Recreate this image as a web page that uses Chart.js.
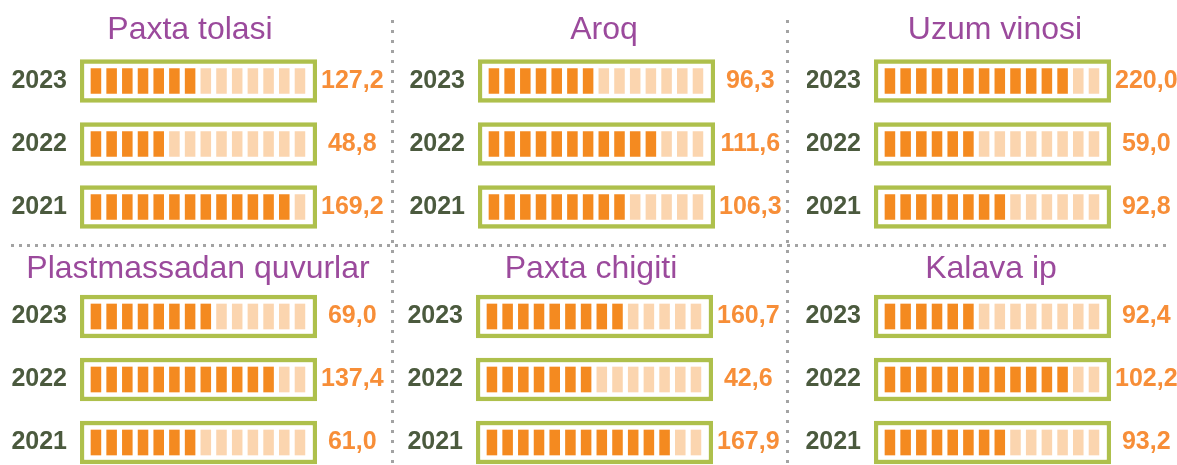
<!DOCTYPE html>
<html>
<head>
<meta charset="utf-8">
<script src="https://cdn.jsdelivr.net/npm/chart.js@4.4.1/dist/chart.umd.min.js"></script>
<style>
    html, body { margin: 0; padding: 0; background: #fff; width: 1177px; height: 465px; overflow: hidden; }
    .panel { position: absolute; }
    .vline { position: absolute; width: 3px; background: repeating-linear-gradient(to bottom, #a3a3a3 0 3px, transparent 3px 10px); }
    .hline { position: absolute; height: 3px; background: repeating-linear-gradient(to right, #a3a3a3 0 3px, transparent 3px 8px); }
</style>
</head>
<body>
<div class="vline" style="left:391px; top:20px; height:450px"></div>
<div class="vline" style="left:786px; top:20px; height:450px"></div>
<div class="hline" style="left:11px; top:244px; width:1160px"></div>
<div id="panels"></div>

<script>
// Years shown top to bottom in every panel
const years = ['2023', '2022', '2021'];

// Product values (2023, 2022, 2021)
const paxtaTolasi = [127.2, 48.8, 169.2];
const aroq = [96.3, 111.6, 106.3];
const uzumVinosi = [220.0, 59.0, 92.8];
const plastmassadanQuvurlar = [69.0, 137.4, 61.0];
const paxtaChigiti = [160.7, 42.6, 167.9];
const kalavaIp = [92.4, 102.2, 93.2];

// Number of dark segments out of 14 in each gauge, as drawn
const SEGMENTS = 14;
const paxtaTolasiFilled = [7, 5, 13];
const aroqFilled = [7, 11, 9];
const uzumVinosiFilled = [12, 6, 8];
const plastmassadanQuvurlarFilled = [8, 12, 7];
const paxtaChigitiFilled = [9, 7, 12];
const kalavaIpFilled = [6, 12, 8];

const panels = [
    { title: 'Paxta tolasi', values: paxtaTolasi, filled: paxtaTolasiFilled },
    { title: 'Aroq', values: aroq, filled: aroqFilled },
    { title: 'Uzum vinosi', values: uzumVinosi, filled: uzumVinosiFilled },
    { title: 'Plastmassadan quvurlar', values: plastmassadanQuvurlar, filled: plastmassadanQuvurlarFilled },
    { title: 'Paxta chigiti', values: paxtaChigiti, filled: paxtaChigitiFilled },
    { title: 'Kalava ip', values: kalavaIp, filled: kalavaIpFilled }
];

// Canvas placement for each panel
const layout = [
    { left: -10, top: 0,   width: 400, height: 245, axisLeft: 90, titleTop: 14, titleBottom: 3.5, padBottom: 6.5 },
    { left: 408, top: 0,   width: 392, height: 245, axisLeft: 70, titleTop: 14, titleBottom: 3.5, padBottom: 6.5 },
    { left: 807, top: 0,   width: 376, height: 245, axisLeft: 67, titleTop: 14, titleBottom: 3.5, padBottom: 6.5 },
    { left: 0,   top: 246, width: 396, height: 235, axisLeft: 80, titleTop: 7,  titleBottom: 0,   padBottom: 7 },
    { left: 399, top: 246, width: 384, height: 235, axisLeft: 77, titleTop: 7,  titleBottom: 0,   padBottom: 7 },
    { left: 805, top: 246, width: 372, height: 235, axisLeft: 69, titleTop: 7,  titleBottom: 0,   padBottom: 7 }
];

const GAUGE_WIDTH = 237;
const colors = {
    on: '#f48a20',
    off: '#fbd5af',
    box: '#aec04c',
    year: '#4b5a3e',
    value: '#f78e38',
    title: '#9b4a9c'
};
const sans = "'Liberation Sans', Arial, sans-serif";

const fmt = v => v.toFixed(1).replace('.', ',');

// category axis labels sit at row centres; drop the label half-height padding
function fixAxis(width) {
    return s => {
        s.width = width;
        s.paddingTop = 0;
        s.paddingBottom = 0;
    };
}

function buildPanel(p, l) {
    const wrap = document.createElement('div');
    wrap.className = 'panel';
    wrap.style.left = l.left + 'px';
    wrap.style.top = l.top + 'px';
    const canvas = document.createElement('canvas');
    canvas.width = l.width;
    canvas.height = l.height;
    wrap.appendChild(canvas);
    document.getElementById('panels').appendChild(wrap);

    // outer green frame behind the segments
    const datasets = [{
        data: years.map(() => [-0.5, SEGMENTS + 0.6]),
        backgroundColor: '#ffffff',
        borderColor: colors.box,
        borderWidth: 4.5,
        borderSkipped: false,
        barThickness: 43,
        order: 1
    }];
    for (let k = 0; k < SEGMENTS; k++) {
        datasets.push({
            data: years.map(() => [k + 0.2, k + 0.83]),
            backgroundColor: p.filled.map(f => k < f ? colors.on : colors.off),
            borderWidth: 0,
            barThickness: 25,
            order: 0
        });
    }

    new Chart(canvas, {
        type: 'bar',
        data: { labels: years, datasets },
        options: {
            indexAxis: 'y',
            responsive: false,
            animation: false,
            events: [],
            datasets: { bar: { grouped: false } },
            layout: { padding: { bottom: l.padBottom } },
            scales: {
                x: { type: 'linear', min: -0.5, max: SEGMENTS + 0.6, display: false },
                y: {
                    type: 'category',
                    position: 'left',
                    offset: true,
                    grid: { display: false, drawTicks: false },
                    border: { display: false },
                    ticks: { padding: 13, color: colors.year, font: { family: sans, size: 25, weight: 'bold' } },
                    afterFit: fixAxis(l.axisLeft)
                },
                y2: {
                    type: 'category',
                    position: 'right',
                    labels: p.values.map(fmt),
                    offset: true,
                    grid: { display: false, drawTicks: false },
                    border: { display: false },
                    ticks: { padding: 4, crossAlign: 'center', color: colors.value, font: { family: sans, size: 25, weight: 'bold' } },
                    afterFit: fixAxis(l.width - l.axisLeft - GAUGE_WIDTH)
                }
            },
            plugins: {
                legend: { display: false },
                tooltip: { enabled: false },
                title: {
                    display: true,
                    text: p.title,
                    color: colors.title,
                    padding: { top: l.titleTop, bottom: l.titleBottom },
                    font: { family: sans, size: 32, weight: 'normal', lineHeight: 1 }
                }
            }
        }
    });
}

panels.forEach((p, i) => buildPanel(p, layout[i]));
</script>
</body>
</html>
